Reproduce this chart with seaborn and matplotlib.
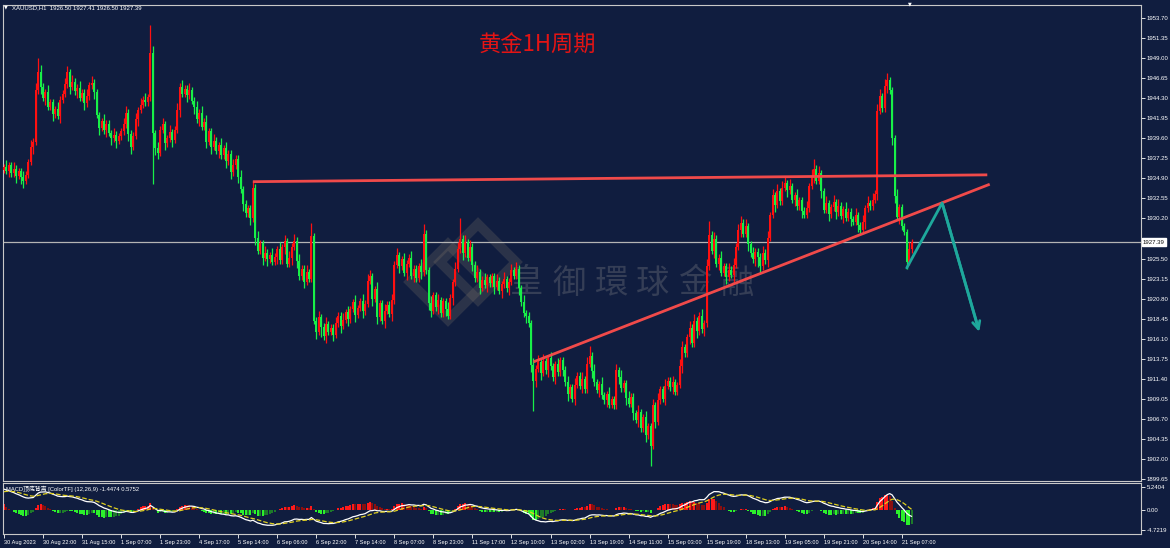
import numpy as np
import pandas as pd
import matplotlib
matplotlib.use("Agg")
import matplotlib.pyplot as plt
from matplotlib.patches import Polygon
import seaborn as sns

# XAUUSD H1 closes (one value per hourly bar)
closes = [
    1936.2, 1935.8, 1936.4, 1935.5, 1936.0, 1935.2, 1935.7, 1935.0, 1934.6, 1935.3,
    1936.8, 1938.6, 1939.2, 1945.2, 1947.4, 1945.6, 1944.3, 1945.0, 1943.3, 1943.8,
    1942.4, 1943.0, 1942.2, 1944.1, 1944.8, 1945.9, 1947.3, 1945.6, 1946.2, 1945.1,
    1945.5, 1944.3, 1944.9, 1943.7, 1944.5, 1945.8, 1946.1, 1945.0, 1942.3, 1940.8,
    1941.6, 1940.5, 1941.3, 1940.2, 1939.6, 1940.0, 1939.3, 1939.8, 1940.4, 1941.2,
    1942.6, 1940.1, 1938.6, 1939.9, 1941.8, 1942.9, 1943.5, 1944.1, 1943.8, 1944.4,
    1949.6, 1940.2, 1938.4, 1937.9, 1940.6, 1941.2, 1939.0, 1939.6, 1940.3, 1939.4,
    1940.6, 1942.9, 1945.6, 1944.8, 1945.4, 1944.6, 1945.2, 1944.0, 1943.2, 1941.8,
    1942.6, 1940.9, 1941.5, 1939.2, 1940.4, 1938.6, 1939.3, 1938.1, 1938.8, 1937.6,
    1938.4, 1936.9, 1937.8, 1935.6, 1936.4, 1937.2, 1935.1, 1933.6, 1931.9, 1930.8,
    1931.4, 1930.2, 1933.8, 1927.9, 1926.4, 1927.3, 1925.6, 1926.2, 1925.4, 1925.9,
    1925.1, 1925.7, 1926.6, 1925.3, 1926.8, 1927.5, 1924.9, 1925.6, 1926.9, 1927.6,
    1925.2, 1923.4, 1924.3, 1922.8, 1923.9, 1923.1, 1928.1, 1918.2, 1916.9, 1918.6,
    1917.5, 1916.4, 1917.8, 1916.9, 1917.4, 1916.6, 1917.9, 1918.8, 1917.6, 1918.3,
    1919.2, 1918.4, 1919.6, 1920.4, 1918.9, 1919.7, 1920.5, 1919.3, 1920.2, 1922.9,
    1923.4, 1920.8, 1921.9, 1918.6, 1920.3, 1918.2, 1919.4, 1920.1, 1919.0, 1920.6,
    1924.8, 1925.9, 1924.6, 1925.4, 1923.8, 1924.9, 1925.6, 1923.5, 1924.3, 1923.2,
    1924.6, 1923.9, 1928.4, 1924.1, 1920.3, 1919.4, 1921.2, 1919.8, 1920.6, 1919.1,
    1920.5, 1919.6, 1918.8, 1920.9, 1922.7, 1924.3, 1926.6, 1927.8, 1926.1, 1927.4,
    1925.6, 1926.9, 1924.8, 1923.2, 1923.9, 1922.1, 1923.0, 1922.4, 1923.3, 1922.6,
    1923.4, 1922.2, 1922.9, 1921.7, 1922.5, 1923.1, 1922.0, 1922.8, 1924.1, 1923.5,
    1924.3, 1922.0, 1920.4, 1919.1, 1918.8, 1917.9, 1913.0, 1911.2, 1912.6, 1913.4,
    1912.1, 1913.5, 1912.4, 1913.8, 1912.9, 1911.6, 1913.1, 1912.2, 1913.6, 1912.5,
    1911.0, 1909.6, 1910.4, 1909.1, 1910.7, 1911.8, 1910.6, 1911.4, 1910.2, 1913.2,
    1914.1, 1912.3, 1911.0, 1910.1, 1910.8, 1909.5, 1908.9, 1909.6, 1908.4, 1909.0,
    1908.3, 1912.4, 1911.6, 1910.3, 1910.9, 1909.2, 1908.5, 1909.3, 1907.4, 1906.6,
    1907.5, 1905.6, 1906.9, 1904.8, 1905.9, 1903.6, 1908.3, 1906.4, 1908.9, 1910.2,
    1909.1, 1910.6, 1911.2, 1910.4, 1911.0, 1909.9, 1910.7, 1912.9, 1915.1, 1914.4,
    1916.3, 1917.4, 1915.6, 1918.2, 1917.0, 1918.8, 1917.2, 1917.9, 1924.6, 1928.3,
    1926.4, 1927.8, 1924.9, 1925.6, 1923.8, 1924.6, 1923.3, 1924.2, 1923.6, 1924.8,
    1926.9, 1928.8, 1929.7, 1928.4, 1929.3, 1927.2, 1926.1, 1925.4, 1926.3, 1925.7,
    1924.6, 1926.2, 1925.3, 1927.9, 1930.6, 1932.9, 1931.8, 1933.4, 1932.2, 1933.8,
    1934.3, 1933.5, 1934.0, 1932.4, 1932.9, 1931.6, 1932.3, 1931.1, 1930.6, 1931.4,
    1934.0, 1935.2, 1936.0, 1934.6, 1935.5, 1933.4, 1931.2, 1932.0, 1930.7, 1931.5,
    1932.1, 1930.9, 1931.7, 1930.5, 1931.3, 1930.3, 1931.0, 1930.1, 1929.8, 1930.6,
    1929.4, 1928.9, 1929.8, 1931.4, 1932.0, 1931.6, 1932.4, 1933.1, 1942.8, 1944.5,
    1943.1, 1945.7, 1946.4, 1945.2, 1939.6, 1932.8, 1930.4, 1931.5, 1929.3, 1928.6,
    1925.1, 1926.6, 1927.39,
]
first_open = 1935.9

# wick lengths above / below the body, in units of wick_unit dollars
wick_unit = 0.4
up_wick = [
    1, 2, 1, 1, 2, 1, 1, 1, 2, 1, 1, 2, 1, 2, 4, 2, 1, 1, 2, 1,
    1, 1, 2, 1, 1, 2, 2, 1, 2, 1, 1, 2, 1, 1, 2, 1, 2, 1, 1, 1,
    1, 2, 1, 1, 1, 2, 1, 1, 1, 2, 2, 1, 1, 1, 2, 1, 2, 1, 2, 1,
    8, 2, 1, 2, 1, 2, 1, 1, 2, 1, 1, 2, 1, 2, 1, 1, 2, 1, 1, 2,
    1, 2, 1, 2, 1, 1, 2, 1, 1, 2, 1, 2, 1, 1, 2, 1, 1, 2, 1, 1,
    1, 1, 2, 1, 2, 1, 1, 2, 1, 1, 2, 1, 1, 2, 1, 2, 1, 2, 1, 2,
    1, 2, 1, 1, 2, 1, 4, 1, 1, 2, 1, 1, 2, 1, 1, 1, 2, 1, 1, 2,
    1, 2, 1, 1, 2, 1, 1, 2, 1, 2, 2, 1, 1, 2, 1, 1, 2, 1, 1, 2,
    1, 2, 1, 1, 2, 1, 1, 2, 1, 1, 1, 2, 3, 1, 1, 2, 1, 1, 2, 1,
    1, 1, 2, 1, 1, 2, 2, 6, 1, 2, 1, 2, 1, 1, 2, 1, 1, 2, 1, 1,
    1, 1, 2, 1, 1, 2, 1, 1, 2, 1, 2, 1, 1, 2, 1, 1, 1, 2, 1, 2,
    1, 2, 1, 1, 2, 1, 1, 2, 1, 1, 1, 2, 1, 1, 2, 1, 1, 2, 1, 2,
    3, 1, 2, 1, 1, 2, 1, 1, 2, 1, 1, 2, 1, 2, 1, 1, 2, 1, 1, 1,
    2, 1, 1, 2, 1, 1, 2, 1, 2, 1, 1, 2, 1, 1, 2, 1, 1, 2, 2, 1,
    1, 2, 1, 2, 1, 1, 2, 1, 2, 4, 1, 2, 1, 1, 2, 1, 1, 2, 1, 2,
    1, 2, 2, 1, 2, 1, 1, 2, 1, 1, 1, 2, 1, 2, 1, 2, 1, 2, 1, 2,
    2, 1, 2, 1, 1, 2, 1, 1, 1, 2, 1, 2, 3, 1, 2, 1, 1, 2, 1, 1,
    2, 1, 2, 1, 1, 2, 1, 1, 1, 2, 1, 1, 2, 1, 2, 1, 2, 1, 2, 2,
    1, 2, 2, 1, 1, 1, 2, 1, 1, 1, 1, 2, 1,
]
down_wick = [
    1, 1, 2, 1, 1, 2, 1, 2, 2, 1, 1, 1, 2, 1, 1, 2, 1, 2, 1, 1,
    2, 1, 1, 2, 1, 1, 1, 2, 1, 1, 2, 1, 1, 2, 1, 1, 1, 2, 1, 2,
    1, 1, 2, 1, 2, 1, 2, 1, 1, 1, 1, 2, 2, 1, 1, 2, 1, 1, 1, 1,
    1, 15, 2, 2, 1, 1, 2, 1, 1, 2, 1, 1, 2, 1, 1, 2, 1, 1, 2, 1,
    2, 1, 1, 2, 1, 2, 1, 1, 2, 1, 1, 2, 1, 2, 1, 1, 2, 1, 2, 1,
    1, 2, 1, 2, 1, 1, 2, 1, 2, 1, 1, 1, 2, 1, 1, 2, 1, 1, 2, 1,
    2, 1, 1, 2, 1, 1, 1, 1, 2, 1, 3, 1, 2, 1, 1, 2, 1, 1, 2, 1,
    1, 2, 1, 1, 2, 1, 1, 2, 1, 1, 1, 2, 1, 2, 1, 1, 2, 1, 1, 2,
    1, 1, 2, 1, 1, 2, 1, 1, 2, 1, 1, 2, 1, 1, 2, 2, 1, 1, 2, 1,
    1, 2, 1, 1, 2, 1, 1, 1, 2, 1, 1, 1, 2, 1, 1, 2, 1, 1, 2, 1,
    1, 2, 1, 1, 2, 1, 1, 2, 1, 1, 1, 2, 1, 1, 2, 1, 2, 9, 2, 1,
    2, 1, 1, 2, 1, 1, 2, 1, 1, 2, 1, 2, 1, 1, 2, 1, 1, 2, 1, 1,
    1, 2, 1, 1, 2, 1, 1, 2, 1, 1, 1, 1, 2, 1, 1, 2, 1, 1, 2, 1,
    2, 1, 1, 2, 1, 6, 1, 2, 1, 1, 1, 2, 1, 1, 2, 1, 1, 1, 2, 1,
    1, 2, 1, 1, 2, 1, 1, 2, 1, 1, 1, 2, 1, 2, 1, 1, 2, 1, 1, 2,
    1, 1, 2, 1, 1, 2, 1, 1, 2, 3, 2, 1, 1, 2, 1, 1, 2, 1, 1, 1,
    1, 2, 1, 1, 2, 1, 1, 2, 1, 1, 1, 1, 2, 1, 1, 2, 1, 1, 2, 1,
    1, 2, 1, 1, 2, 1, 1, 2, 1, 1, 2, 1, 1, 2, 1, 1, 1, 1, 2, 1,
    1, 1, 2, 1, 2, 2, 1, 2, 1, 1, 2, 1, 1,
]

time_labels = [
    "30 Aug 2023", "30 Aug 22:00", "31 Aug 15:00", "1 Sep 07:00", "1 Sep 23:00",
    "4 Sep 17:00", "5 Sep 14:00", "6 Sep 06:00", "6 Sep 22:00", "7 Sep 14:00",
    "8 Sep 07:00", "8 Sep 23:00", "11 Sep 17:00", "12 Sep 10:00", "13 Sep 02:00",
    "13 Sep 19:00", "14 Sep 11:00", "15 Sep 03:00", "15 Sep 19:00", "18 Sep 13:00",
    "19 Sep 05:00", "19 Sep 21:00", "20 Sep 14:00", "21 Sep 07:00",
]
label_step = 16  # bars between time labels

price_ticks = [1899.65 + 2.35 * k for k in range(24)]
last_price = 1927.39

# drawn analysis lines: (bar, price) pairs
flat_line = [(102, 1934.5), (403, 1935.3)]
rising_line = [(217, 1913.4), (404, 1934.2)]
forecast_path = [(370, 1924.4), (384.5, 1932.0), (400, 1916.6)]

# MACD(12,26,9) state at the first bar
ema_fast_start = 1933.5
ema_slow_start = 1928.6
dea_start = 4.0
macd_ticks = [5.2404, 0.0, -4.7219]
macd_labels = ["5.2404", "0.00", "-4.7219"]

BG = "#101d3f"
UP = "#ff1010"
DOWN = "#18f048"
FS = 4.3

sns.set_theme(style="dark", rc={"axes.facecolor": BG, "figure.facecolor": BG})
plt.rcParams["font.family"] = ["Liberation Sans", "Noto Sans CJK SC", "DejaVu Sans"]

W, H = 1170, 548


def fx(x):
    return x / W


def fy(y):
    return 1 - y / H


fig = plt.figure(figsize=(W / 100, H / 100), dpi=100)
ax = fig.add_axes([fx(3), fy(481), fx(1141) - fx(3), fy(5) - fy(481)])
axm = fig.add_axes([fx(3), fy(534), fx(1141) - fx(3), fy(483) - fy(534)])

# candles
df = pd.DataFrame({"close": closes})
df["open"] = [first_open] + closes[:-1]
df["bar"] = np.arange(len(df))
body_top = df[["open", "close"]].max(axis=1)
body_bot = df[["open", "close"]].min(axis=1)
df["high"] = body_top + np.array(up_wick) * wick_unit
df["low"] = body_bot - np.array(down_wick) * wick_unit
colors = np.where(df["close"] >= df["open"], UP, DOWN)

ax.vlines(df["bar"], df["low"], df["high"], colors=colors, lw=0.9, zorder=3)
ax.bar(df["bar"], np.maximum(body_top - body_bot, 0.12), bottom=body_bot,
       width=0.82, color=colors, linewidth=0, zorder=3)

ax.axhline(last_price, color="#b4b4b4", lw=0.9, zorder=2)

for line in (flat_line, rising_line):
    xs, ys = zip(*line)
    ax.plot(xs, ys, color="#f04a4a", lw=2, zorder=4, solid_capstyle="butt")
xs, ys = zip(*forecast_path)
ax.plot(xs[:-1] + (xs[-1] - 0.8,), ys[:-1] + (ys[-1] + 0.9,), color="#1ea89c", lw=2, zorder=4)
ax.annotate("", xy=forecast_path[-1], xytext=forecast_path[-2],
            arrowprops=dict(arrowstyle="->,head_length=0.45,head_width=0.22",
                            color="#1ea89c", lw=2), zorder=4)

ax.set_xlim(-0.4, 466)
ax.set_ylim(1899.45, 1955.19)
ax.set_xticks([])
ax.yaxis.tick_right()
ax.set_yticks(price_ticks)
ax.set_yticklabels([f"{p:.2f}" if abs(p - last_price) > 1 else "" for p in price_ticks])
ax.tick_params(axis="y", colors="white", labelsize=FS, length=3, width=0.6,
               direction="out", pad=1, right=True)

# MACD panel
ema_fast, ema_slow, dea = ema_fast_start, ema_slow_start, dea_start
difs, deas = [], []
for c in closes:
    ema_fast += 2 / 13 * (c - ema_fast)
    ema_slow += 2 / 27 * (c - ema_slow)
    dif = ema_fast - ema_slow
    dea += 2 / 10 * (dif - dea)
    difs.append(dif)
    deas.append(dea)
macd = pd.DataFrame({"bar": df["bar"], "dif": difs, "dea": deas})
macd["hist"] = 2 * (macd["dif"] - macd["dea"])
prev = macd["hist"].shift(1).fillna(0)
hist_colors = np.where(macd["hist"] >= 0,
                       np.where(macd["hist"] >= prev, "#ff1a1a", "#8a0f0f"),
                       np.where(macd["hist"] <= prev, "#2cf02c", "#1d7a2a"))
axm.bar(macd["bar"], macd["hist"], width=0.82, color=hist_colors, linewidth=0)
sns.lineplot(data=macd, x="bar", y="dif", ax=axm, color="white", lw=0.9)
sns.lineplot(data=macd, x="bar", y="dea", ax=axm, color="#e0d020", lw=0.9,
             dashes=(2, 2), linestyle="--")
axm.set_xlim(-0.4, 466)
axm.set_ylim(-5.65, 6.17)
axm.set_xlabel("")
axm.set_ylabel("")
axm.yaxis.tick_right()
axm.set_yticks(macd_ticks)
axm.set_yticklabels(macd_labels)
tick_bars = [label_step * k for k in range(len(time_labels))]
axm.set_xticks(tick_bars)
axm.set_xticklabels(time_labels, ha="left")
axm.tick_params(axis="both", colors="white", labelsize=FS, length=3, width=0.6,
                direction="out", pad=1, right=True, bottom=True)
axm.tick_params(axis="x", labelsize=4.1)

for a in (ax, axm):
    a.grid(False)
    for s in a.spines.values():
        s.set_color("#c8c8c8")
        s.set_linewidth(0.8)

# header texts
fig.text(fx(12), fy(7.5), "XAUUSD,H1  1926.50 1927.41 1926.50 1927.39", color="white",
         fontsize=FS, va="center", ha="left")
fig.text(fx(3.5), fy(7), "▼", color="white", fontsize=3.5, va="center", ha="left",
         family=["DejaVu Sans"])
fig.text(fx(908), fy(3.5), "▼", color="white", fontsize=3.5, va="center", ha="left",
         family=["DejaVu Sans"])
fig.text(fx(6), fy(488.5), "MACD顶底背离 [ColorTF] (12,26,9) -1.4474 0.5752", color="white",
         fontsize=4.2, va="center", ha="left")
fig.text(fx(537), fy(45), "黄金1H周期", color="#e41414", fontsize=16, va="center",
         ha="center", family=["Noto Sans CJK SC", "DejaVu Sans"])
fig.text(fx(1143), fy(242), "1927.39", color="#101010", fontsize=FS, va="center",
         ha="left", bbox=dict(boxstyle="square,pad=0.2", fc="white", ec="white"))

# watermark
for k, ch in enumerate("皇御環球金融"):
    ax.text(fx(527 + 42 * k), fy(283), ch, transform=fig.transFigure, color="#5a5f6e",
            alpha=0.5, fontsize=24, ha="center", va="center", zorder=1,
            family=["Noto Sans CJK TC", "DejaVu Sans"])
for cx, cy in ((448, 282), (478, 262)):
    d = 38
    pts = [(fx(cx - d), fy(cy)), (fx(cx), fy(cy - d)), (fx(cx + d), fy(cy)), (fx(cx), fy(cy + d))]
    ax.add_patch(Polygon(pts, closed=True, fill=False, ec="#9a8c74", lw=7, alpha=0.2,
                         transform=fig.transFigure, zorder=1))

fig.savefig("out.png", dpi=100, facecolor=BG)
